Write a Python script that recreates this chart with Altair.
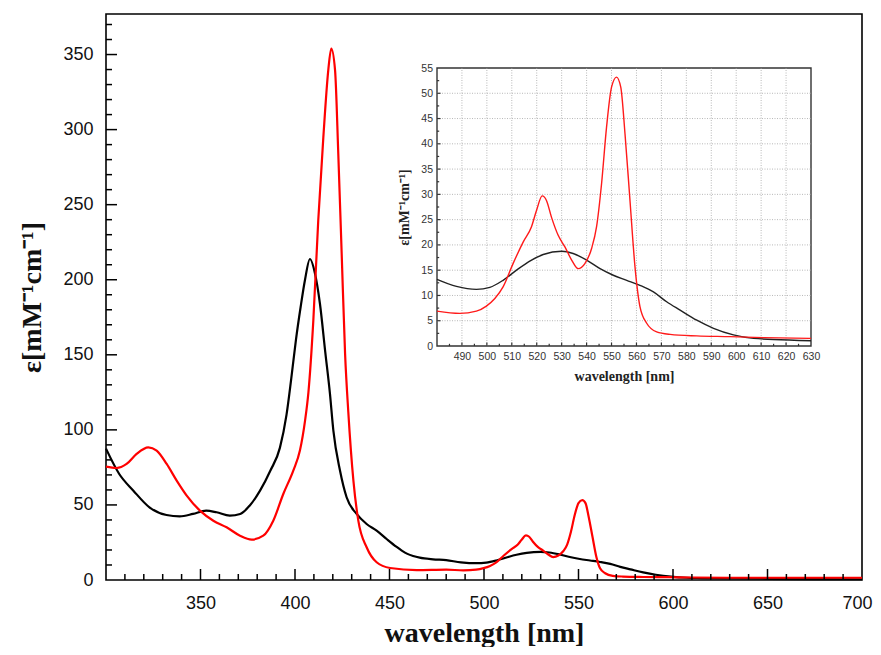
import altair as alt
import pandas as pd

# ---------------- data ----------------
black_wl = [300, 307, 314.5, 323, 332, 339, 346, 353, 358.5, 365.5, 371, 376, 381.5, 387, 392,
            395.5, 398, 400.5, 403, 405.3, 407.9, 410.6, 413.2, 416, 418.5, 420.3, 423.8, 427.3,
            432.6, 437.9, 443.2, 448.5, 453.8, 456.5, 459.5, 462.5, 466, 473, 480, 487.8, 495.8,
            501.2, 506.5, 511.9, 517.2, 522.6, 530, 534.6, 540, 545.4, 550.7, 556.1, 561.4, 566.8,
            572.1, 577.5, 584.2, 590.9, 598.9, 607, 615, 630, 650, 675, 700]
black_eps = [87.5, 70.6, 59.5, 48.4, 43.3, 42.4, 44, 46.2, 45.1, 42.9, 44, 49.5, 59.5, 72.9, 88,
             110, 134, 160, 182, 200, 213.8, 204, 184, 152, 124, 99.5, 72.9, 55.1,
             44, 37.3, 32.9, 27.3, 22, 19.6, 17.4, 16, 14.9, 13.8, 13.2, 11.8, 11.2,
             11.6, 13, 15, 16.8, 18.1, 18.75, 18.3, 17, 15.3, 14, 13, 12, 10.7,
             8.75, 7.1, 5.1, 3.5, 2.2, 1.5, 1.3, 1.05, 0.8, 0.6, 0.5]

red_wl = [300, 305.6, 310.9, 316.2, 322.4, 326.8, 332.1, 337.4, 342.7, 349.7, 356.8, 363.8, 370.9,
          377.1, 383.2, 388.5, 393.8, 399.1, 402.6, 405.3, 407.1, 409.7, 412.3, 415, 417.6, 419.2,
          421.2, 422.9, 424.7, 426.5, 428.2, 430.9, 433.5, 437.9, 443.2, 450.3, 464.4, 480, 489.1,
          495.8, 499.8, 503.2, 506.5, 510.5, 514.6, 517.9, 519.9, 522.2, 523.9, 525.9, 528.6,
          531.3, 534, 536.6, 539.3, 542, 544, 546, 548, 550, 552, 553.7, 555.4, 557.4, 559.4,
          561.4, 564.1, 568.1, 573.5, 584.2, 597.6, 611, 630, 665, 700]
red_eps = [75.5, 74.6, 77.3, 84, 88.4, 86.2, 77.3, 66.2, 56.2, 46.2, 39.5, 35.1, 29.5,
           26.9, 29.5, 39.5, 57.3, 72.9, 86.2, 106, 125, 172.9, 239.5, 295, 339.5, 354,
           339.5, 284, 217.3, 150.6, 112, 66.2, 39.5, 21.8, 11.8, 8, 6.6, 6.9, 6.45,
           6.9, 7.9, 9.4, 11.7, 16.3, 20.6, 23.6, 26.8, 29.7, 28.8, 25.5, 21.9,
           19.6, 17, 15.3, 16.3, 19.3, 23.6, 32.1, 43.3, 51.2, 53.2, 51.2, 42, 28.8, 15.7,
           7.8, 4.5, 2.8, 2.3, 2.0, 1.85, 1.65, 1.5, 1.5, 1.5]

series_names = ["black", "red"]
main_colors = ["#000000", "#ff0000"]
inset_colors = ["#222222", "#ff1a1a"]

main_x_labels = [350, 400, 450, 500, 550, 600, 650, 700]
main_y_labels = [0, 50, 100, 150, 200, 250, 300, 350]
main_x_major = [350, 400, 450, 500, 550, 600, 650]
main_x_minor = [v for v in range(310, 700, 10) if v % 50 != 0]
main_y_major = [50, 100, 150, 200, 250, 300, 350]
main_y_minor = [v for v in range(10, 371, 10) if v % 50 != 0]

inset_x_labels = [490, 500, 510, 520, 530, 540, 550, 560, 570, 580, 590, 600, 610, 620, 630]
inset_y_labels = [0, 5, 10, 15, 20, 25, 30, 35, 40, 45, 50, 55]
inset_x_grid = [490, 500, 510, 520, 530, 540, 550, 560, 570, 580, 590, 600, 610, 620]
inset_y_grid = [5, 10, 15, 20, 25, 30, 35, 40, 45, 50]
inset_x_minor = [485, 495, 505, 515, 525, 535, 545, 555, 565, 575, 585, 595, 605, 615, 625]
inset_y_minor = [2.5, 7.5, 12.5, 17.5, 22.5, 27.5, 32.5, 37.5, 42.5, 47.5, 52.5]

Y_TITLE = "ε[mM⁻¹cm⁻¹]"
X_TITLE = "wavelength [nm]"

# ---------------- tables ----------------
df = pd.concat([
    pd.DataFrame({"wl": black_wl, "eps": black_eps, "series": "black"}),
    pd.DataFrame({"wl": red_wl, "eps": red_eps, "series": "red"}),
], ignore_index=True)
df_in = df[(df.wl >= 480) & (df.wl <= 630)]

SANS = "Liberation Sans"
SERIF = "Liberation Serif"

xs_main = alt.Scale(domain=[300, 700], nice=False, zero=False)
ys_main = alt.Scale(domain=[0, 377], nice=False, zero=True)
xs_in = alt.Scale(domain=[480, 630], range=[331, 705], nice=False, zero=False)
ys_in = alt.Scale(domain=[0, 55], range=[332, 54], nice=False, zero=True)

# ---------------- main panel ----------------
main_lines = alt.Chart(df).mark_line(strokeWidth=2.2, interpolate="monotone").encode(
    x=alt.X("wl:Q", scale=xs_main, axis=alt.Axis(
        orient="bottom", values=main_x_labels, title=X_TITLE, ticks=False, tickSize=0,
        domain=False, grid=False, labelFont=SANS, labelFontSize=18, labelColor="#111",
        labelPadding=14, labelOverlap=False, labelFlush=False,
        labelOffset={"condition": {"test": "datum.value === 700", "value": -5}, "value": 0},
        titleFont=SERIF, titleFontSize=28,
        titleFontWeight="bold", titleColor="#111", titlePadding=7)),
    y=alt.Y("eps:Q", scale=ys_main, axis=alt.Axis(
        orient="left", values=main_y_labels, title=Y_TITLE, ticks=False, tickSize=0,
        domain=False, grid=False, labelFont=SANS, labelFontSize=18, labelColor="#111",
        labelPadding=13, labelOverlap=False, labelFlush=False, titleFont=SERIF, titleFontSize=28,
        titleFontWeight="bold", titleColor="#111", titlePadding=16)),
    color=alt.Color("series:N", scale=alt.Scale(domain=series_names, range=main_colors), legend=None),
)


def xticks(vals, length, xs, ys, color="#000", width=1.5):
    t = pd.DataFrame({"wl": vals, "eps": [0] * len(vals)})
    return alt.Chart(t).mark_rule(color=color, strokeWidth=width, y2Offset=-length).encode(
        x=alt.X("wl:Q", scale=xs, axis=None),
        y=alt.Y("eps:Q", scale=ys, axis=None),
        y2="eps:Q",
    )


def yticks(vals, length, x0, xs, ys, color="#000", width=1.5):
    t = pd.DataFrame({"wl": [x0] * len(vals), "eps": vals})
    return alt.Chart(t).mark_rule(color=color, strokeWidth=width, x2Offset=length).encode(
        x=alt.X("wl:Q", scale=xs, axis=None),
        x2="wl:Q",
        y=alt.Y("eps:Q", scale=ys, axis=None),
    )


# ---------------- inset ----------------
frame = alt.Chart(pd.DataFrame({"wl": [480], "wl2": [630], "eps": [0], "eps2": [55]})).mark_rect(
    fill="white", stroke="#333", strokeWidth=1.4).encode(
    x=alt.X("wl:Q", scale=xs_in, axis=None), x2="wl2:Q",
    y=alt.Y("eps:Q", scale=ys_in, axis=None), y2="eps2:Q",
)
gx = alt.Chart(pd.DataFrame({"wl": inset_x_grid, "eps": [0] * len(inset_x_grid),
                             "eps2": [55] * len(inset_x_grid)})).mark_rule(
    color="#b8b8b8", strokeWidth=1, strokeDash=[1, 1.5]).encode(
    x=alt.X("wl:Q", scale=xs_in, axis=None),
    y=alt.Y("eps:Q", scale=ys_in, axis=None), y2="eps2:Q",
)
gy = alt.Chart(pd.DataFrame({"eps": inset_y_grid, "wl": [480] * len(inset_y_grid),
                             "wl2": [630] * len(inset_y_grid)})).mark_rule(
    color="#b8b8b8", strokeWidth=1, strokeDash=[1, 1.5]).encode(
    x=alt.X("wl:Q", scale=xs_in, axis=None), x2="wl2:Q",
    y=alt.Y("eps:Q", scale=ys_in, axis=None),
)
inset_lines = alt.Chart(df_in).mark_line(strokeWidth=1.4, interpolate="monotone").encode(
    x=alt.X("wl:Q", scale=xs_in, axis=alt.Axis(
        orient="bottom", offset=-234, values=inset_x_labels, title=X_TITLE, ticks=False, tickSize=0,
        domain=False, grid=False, labelFont=SANS, labelFontSize=10.5, labelColor="#333",
        labelPadding=5.5, labelOverlap=False, labelFlush=False, titleFont=SERIF, titleFontSize=14,
        titleFontWeight="bold", titleColor="#222", titlePadding=7)),
    y=alt.Y("eps:Q", scale=ys_in, axis=alt.Axis(
        orient="left", offset=-331, values=inset_y_labels, title=Y_TITLE, ticks=False, tickSize=0,
        domain=False, grid=False, labelFont=SANS, labelFontSize=10.5, labelColor="#333",
        labelPadding=4.5, labelOverlap=False, labelFlush=False, titleFont=SERIF, titleFontSize=14,
        titleFontWeight="bold", titleColor="#222", titlePadding=9)),
    color=alt.Color("series:N", scale=alt.Scale(domain=series_names, range=inset_colors), legend=None),
)

layers = [
    main_lines,
    xticks(main_x_major, 11, xs_main, ys_main),
    xticks(main_x_minor, 6, xs_main, ys_main),
    yticks(main_y_major, 11, 300, xs_main, ys_main),
    yticks(main_y_minor, 6, 300, xs_main, ys_main),
    frame, gx, gy,
    xticks(inset_x_labels[:-1], 3.5, xs_in, ys_in, color="#333", width=1.2),
    xticks(inset_x_minor, 2.2, xs_in, ys_in, color="#333", width=1.2),
    yticks(inset_y_labels[1:-1], 3.5, 480, xs_in, ys_in, color="#333", width=1.2),
    yticks(inset_y_minor, 2.2, 480, xs_in, ys_in, color="#333", width=1.2),
    inset_lines,
]

chart = alt.layer(*layers).resolve_scale(
    x="independent", y="independent", color="independent"
).properties(
    width=756, height=566,
    autosize=alt.AutoSizeParams(type="none"),
    padding={"left": 98, "top": 6, "right": 11, "bottom": 67},
    background="white",
).configure_view(stroke="#000", strokeWidth=1.6)

chart.save("out.html", embed_options={"renderer": "svg", "actions": False})
